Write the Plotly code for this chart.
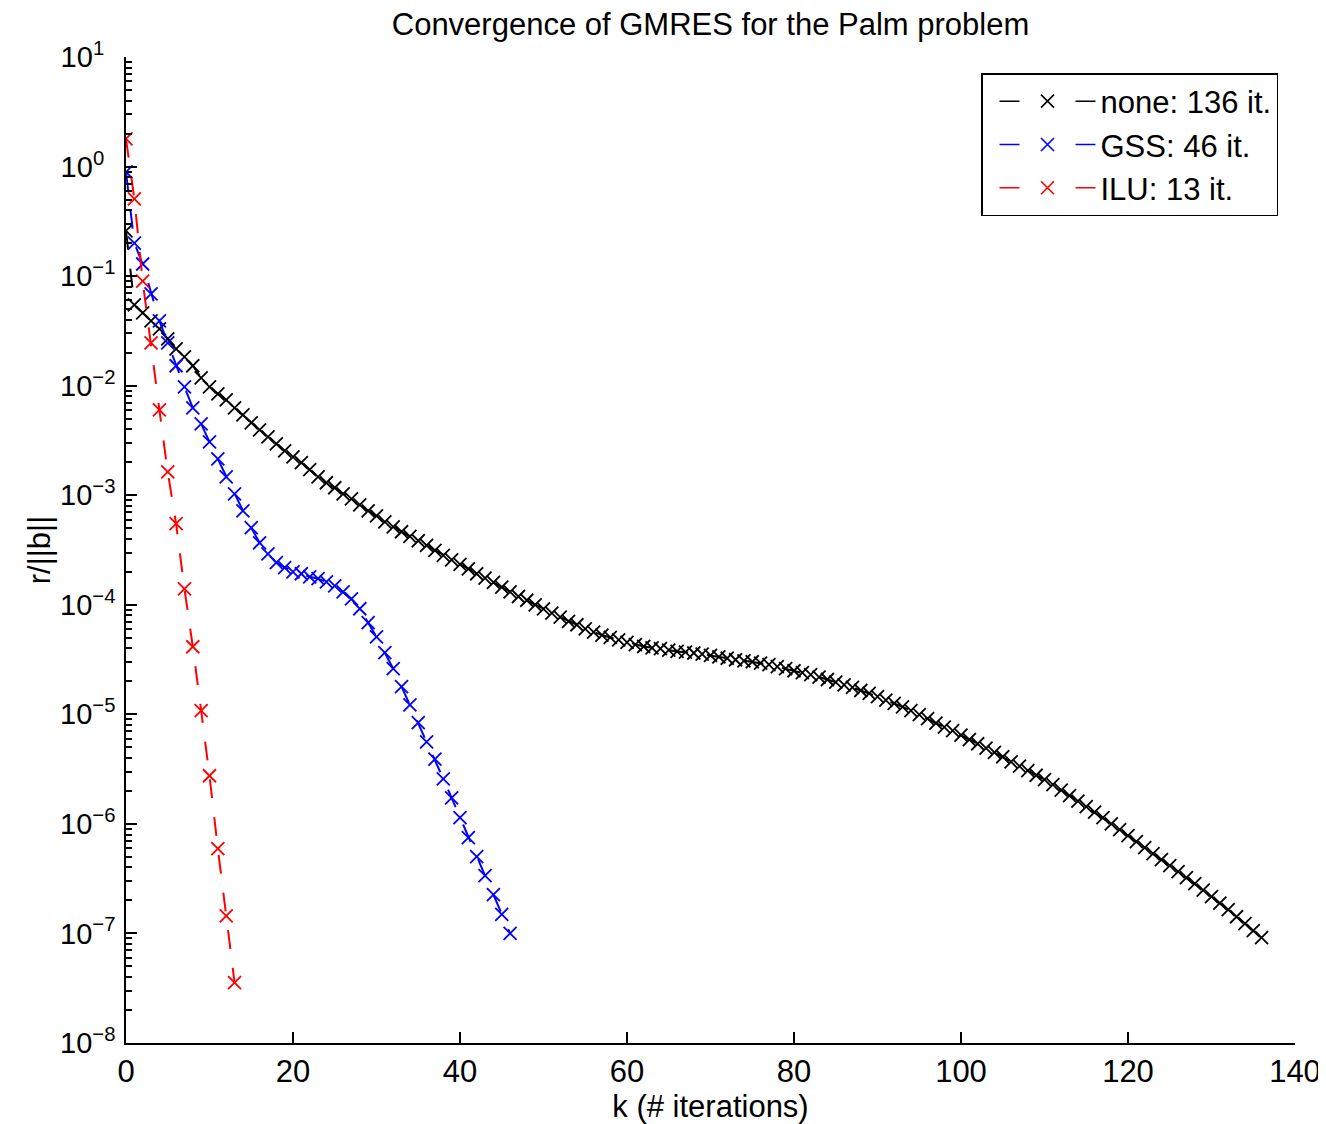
import plotly.graph_objects as go

# ---------------- data ----------------
k_none = list(range(0, 137))
res_none = [
    2.59e-1, 5.46e-2, 4.62e-2, 3.90e-2, 3.30e-2, 2.67e-2, 2.17e-2, 1.83e-2, 1.52e-2, 1.18e-2,
    9.75e-3, 8.42e-3, 7.42e-3, 6.27e-3, 5.41e-3, 4.58e-3, 3.95e-3, 3.41e-3, 2.94e-3, 2.54e-3,
    2.24e-3, 1.98e-3, 1.71e-3, 1.47e-3, 1.30e-3, 1.17e-3, 1.03e-3, 9.27e-4, 8.18e-4, 7.21e-4,
    6.49e-4, 5.72e-4, 5.15e-4, 4.64e-4, 4.22e-4, 3.84e-4, 3.48e-4, 3.14e-4, 2.83e-4, 2.57e-4,
    2.34e-4, 2.13e-4, 1.92e-4, 1.75e-4, 1.60e-4, 1.45e-4, 1.31e-4, 1.19e-4, 1.10e-4, 1.00e-4,
    9.19e-5, 8.40e-5, 7.72e-5, 7.07e-5, 6.57e-5, 6.04e-5, 5.63e-5, 5.29e-5, 5.03e-5, 4.79e-5,
    4.53e-5, 4.32e-5, 4.16e-5, 4.05e-5, 3.97e-5, 3.86e-5, 3.75e-5, 3.70e-5, 3.63e-5, 3.54e-5,
    3.45e-5, 3.35e-5, 3.25e-5, 3.15e-5, 3.08e-5, 3.02e-5, 2.94e-5, 2.84e-5, 2.72e-5, 2.61e-5,
    2.50e-5, 2.40e-5, 2.30e-5, 2.19e-5, 2.08e-5, 1.97e-5, 1.86e-5, 1.76e-5, 1.65e-5, 1.55e-5,
    1.45e-5, 1.35e-5, 1.26e-5, 1.17e-5, 1.08e-5, 9.92e-6, 9.12e-6, 8.33e-6, 7.66e-6, 7.09e-6,
    6.45e-6, 5.89e-6, 5.39e-6, 4.91e-6, 4.49e-6, 4.10e-6, 3.69e-6, 3.36e-6, 3.06e-6, 2.78e-6,
    2.53e-6, 2.28e-6, 2.03e-6, 1.81e-6, 1.61e-6, 1.44e-6, 1.28e-6, 1.14e-6, 1.00e-6, 8.85e-7,
    7.80e-7, 6.88e-7, 6.07e-7, 5.35e-7, 4.71e-7, 4.15e-7, 3.66e-7, 3.23e-7, 2.85e-7, 2.48e-7,
    2.17e-7, 1.89e-7, 1.65e-7, 1.42e-7, 1.23e-7, 1.06e-7, 9.15e-8,
]

k_gss = list(range(0, 47))
res_gss = [
    8.93e-1, 2.00e-1, 1.29e-1, 6.89e-2, 3.90e-2, 2.46e-2, 1.52e-2, 9.75e-3, 6.27e-3, 4.48e-3,
    3.07e-3, 2.15e-3, 1.47e-3, 1.03e-3, 7.20e-4, 5.05e-4, 3.68e-4, 2.92e-4, 2.42e-4, 2.18e-4,
    2.00e-4, 1.92e-4, 1.80e-4, 1.73e-4, 1.62e-4, 1.49e-4, 1.31e-4, 1.13e-4, 9.20e-5, 6.86e-5,
    5.10e-5, 3.65e-5, 2.61e-5, 1.79e-5, 1.22e-5, 8.40e-6, 5.60e-6, 3.90e-6, 2.58e-6, 1.73e-6,
    1.14e-6, 7.48e-7, 5.02e-7, 3.37e-7, 2.26e-7, 1.49e-7, 1.00e-7,
]

k_ilu = list(range(0, 14))
res_ilu = [
    1.79e0, 5.06e-1, 9.00e-2, 2.46e-2, 6.00e-3, 1.63e-3, 5.50e-4, 1.40e-4, 4.14e-5, 1.08e-5,
    2.75e-6, 5.94e-7, 1.45e-7, 3.56e-8,
]

series_names = ["none: 136 it.", "GSS: 46 it.", "ILU: 13 it."]
series_colors = ["#000000", "#0000ff", "#ff0000"]

x_tick_vals = [0, 20, 40, 60, 80, 100, 120, 140]
y_tick_exps = [-8, -7, -6, -5, -4, -3, -2, -1, 0, 1]
y_tick_vals = [10.0 ** e for e in y_tick_exps]
y_tick_text = ["10<sup>" + (("\u2212" + str(-e)) if e < 0 else (str(e) + "\u00a0\u00a0")) + "</sup>"
               for e in y_tick_exps]
y_minor_vals = [m * 10.0 ** e for e in range(-8, 1) for m in range(2, 10)]

FONT = "Liberation Sans, Arial, Helvetica, sans-serif"
FS = 31
YTICK_FS = 29
LEG_FS = 31

# the page body adds an 8px margin; the figure is sized so it stays inside the window
FIG_W, FIG_H = 1318, 1116
OFF = 8
PLOT_L, PLOT_R, PLOT_T, PLOT_B = 126, 1295, 57, 1043   # target plot box in window pixels

fig = go.Figure()
series = [(k_none, res_none), (k_gss, res_gss), (k_ilu, res_ilu)]
for (xs, ys), name, col in zip(series, series_names, series_colors):
    fig.add_trace(go.Scatter(
        x=xs, y=ys, name=name, mode="lines+markers", showlegend=False,
        legendgroup=name,
        line=dict(color=col, width=2, dash="19px,19px"),
        marker=dict(symbol="x-thin", size=13, color=col, line=dict(width=1.8, color=col)),
    ))
# legend entries (MATLAB-style "-- x --" sample)
for name, col in zip(series_names, series_colors):
    fig.add_trace(go.Scatter(
        x=[None], y=[None], name=name, mode="lines+markers", showlegend=True,
        legendgroup=name,
        line=dict(color=col, width=1.5, dash="20px,56px,20px"),
        marker=dict(symbol="x-thin", size=13, color=col, line=dict(width=1.6, color=col)),
    ))

fig.update_layout(
    width=FIG_W, height=FIG_H,
    margin=dict(l=PLOT_L - OFF, r=FIG_W - (PLOT_R - OFF), t=PLOT_T - OFF,
                b=FIG_H - (PLOT_B - OFF), autoexpand=False),
    paper_bgcolor="white", plot_bgcolor="white",
    font=dict(family=FONT, size=FS, color="black"),
    title=dict(text="Convergence of GMRES for the Palm problem",
               x=0.5, xref="paper", xanchor="center",
               y=1 - 16 / FIG_H, yref="container", yanchor="middle",
               font=dict(family=FONT, size=FS, color="black")),
    showlegend=True,
    legend=dict(x=(981 - PLOT_L) / (PLOT_R - PLOT_L), xanchor="left",
                y=(PLOT_B - 73) / (PLOT_B - PLOT_T), yanchor="top",
                bgcolor="white", bordercolor="black", borderwidth=1.5,
                font=dict(family=FONT, size=LEG_FS, color="black"),
                itemwidth=96, tracegroupgap=0, indentation=12,
                groupclick="togglegroup"),
)

fig.update_xaxes(
    range=[0, 140], tickmode="array", tickvals=x_tick_vals,
    showline=True, linecolor="black", linewidth=1.5, mirror=False,
    ticks="inside", ticklen=11, tickwidth=1.5, tickcolor="black",
    showgrid=False, zeroline=False, automargin=False,
    tickfont=dict(family=FONT, size=FS, color="black"),
    title=dict(text="k (# iterations)", standoff=4,
               font=dict(family=FONT, size=FS, color="black")),
)

fig.update_yaxes(
    type="log", range=[-8, 1], tickmode="array",
    tickvals=y_tick_vals, ticktext=y_tick_text,
    showline=True, linecolor="black", linewidth=1.5, mirror=False,
    ticks="inside", ticklen=11, tickwidth=1.5, tickcolor="black",
    minor=dict(tickmode="array", tickvals=y_minor_vals, ticks="inside",
               ticklen=6, tickwidth=1.5, tickcolor="black", showgrid=False),
    showgrid=False, zeroline=False, automargin=False,
    tickfont=dict(family=FONT, size=YTICK_FS, color="black"),
    ticklabelstandoff=3,
    title=dict(text="r/||b||", standoff=0,
               font=dict(family=FONT, size=FS, color="black")),
)

fig.write_html("out.html")
